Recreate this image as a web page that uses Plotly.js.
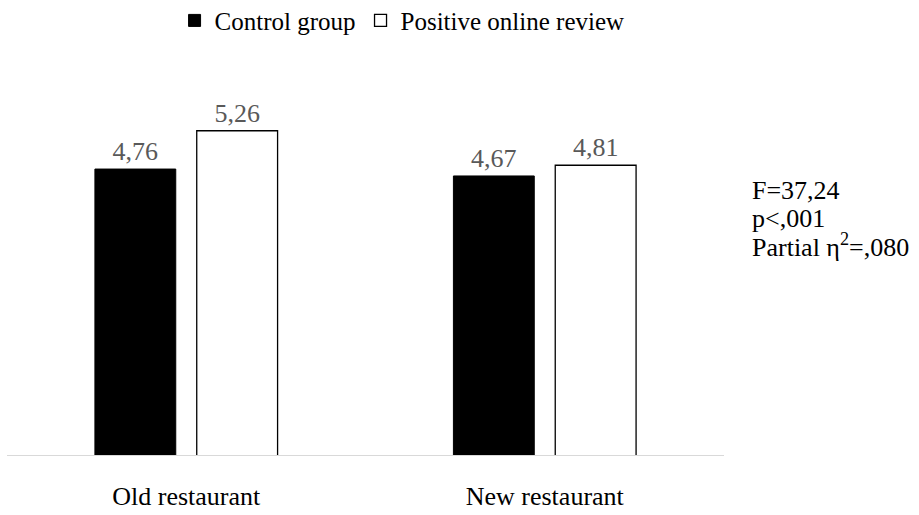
<!DOCTYPE html>
<html>
<head>
<meta charset="utf-8">
<script src="https://cdn.plot.ly/plotly-3.0.1.min.js"></script>
<style>
html,body{margin:0;padding:0;background:#fff;}
#chart{width:919px;height:515px;}
</style>
</head>
<body>
<div id="chart"></div>
<script>
const categories = ['Old restaurant', 'New restaurant'];
const seriesNames = ['Control group', 'Positive online review'];
const controlValues = [4.76, 4.67];
const positiveValues = [5.26, 4.81];
const statsLines = ['F=37,24', 'p<,001', 'Partial η<sup>2</sup>=,080'];

const SERIF = 'Times New Roman';

const traces = [
  {
    type: 'bar', name: seriesNames[0], x: categories, y: controlValues,
    marker: {color: '#000000', line: {color: '#000000', width: 1}},
    texttemplate: '%{y:.2f}', textposition: 'outside', cliponaxis: false,
    textfont: {family: SERIF, size: 26, color: '#595959'}, hoverinfo: 'skip'
  },
  {
    type: 'bar', name: seriesNames[1], x: categories, y: positiveValues,
    marker: {color: '#ffffff', line: {color: '#000000', width: 1.3}},
    texttemplate: '%{y:.2f}', textposition: 'outside', cliponaxis: false,
    textfont: {family: SERIF, size: 26, color: '#595959'}, hoverinfo: 'skip'
  }
];

const statsY = [0.6955, 0.622, 0.550];
const annotations = statsLines.map((t, i) => ({
  text: t, xref: 'paper', yref: 'paper', x: 1.036, y: statsY[i],
  xanchor: 'left', yanchor: 'middle', showarrow: false, align: 'left',
  font: {family: SERIF, size: 26, color: '#000000'}
}));

const layout = {
  width: 919, height: 515,
  margin: {l: 7, r: 195, t: 74, b: 60, autoexpand: false},
  paper_bgcolor: '#ffffff', plot_bgcolor: '#ffffff',
  separators: ', ',
  barmode: 'group', bargap: 0.432, bargroupgap: 0.206,
  font: {family: SERIF, size: 26, color: '#000000'},
  showlegend: true,
  legend: {
    orientation: 'h', x: 0.551, xanchor: 'center', y: 1.14, yanchor: 'middle',
    font: {family: SERIF, size: 25, color: '#000000'}, bgcolor: 'rgba(0,0,0,0)'
  },
  xaxis: {
    type: 'category', range: [-0.5, 1.5], showgrid: false, zeroline: false,
    showline: true, linecolor: '#d9d9d9', linewidth: 1, ticks: '',
    ticklabelstandoff: 18,
    tickfont: {family: SERIF, size: 26, color: '#000000'}, fixedrange: true
  },
  yaxis: {
    range: [1.03, 6], visible: false, showgrid: false, zeroline: false, fixedrange: true
  },
  annotations: annotations
};

Plotly.newPlot('chart', traces, layout, {staticPlot: true, displayModeBar: false}).then(function (gd) {
  gd.querySelectorAll('svg text').forEach(function (t) { t.style.fontFamily = "'Liberation Serif', 'Times New Roman', serif"; });
});
</script>
</body>
</html>
